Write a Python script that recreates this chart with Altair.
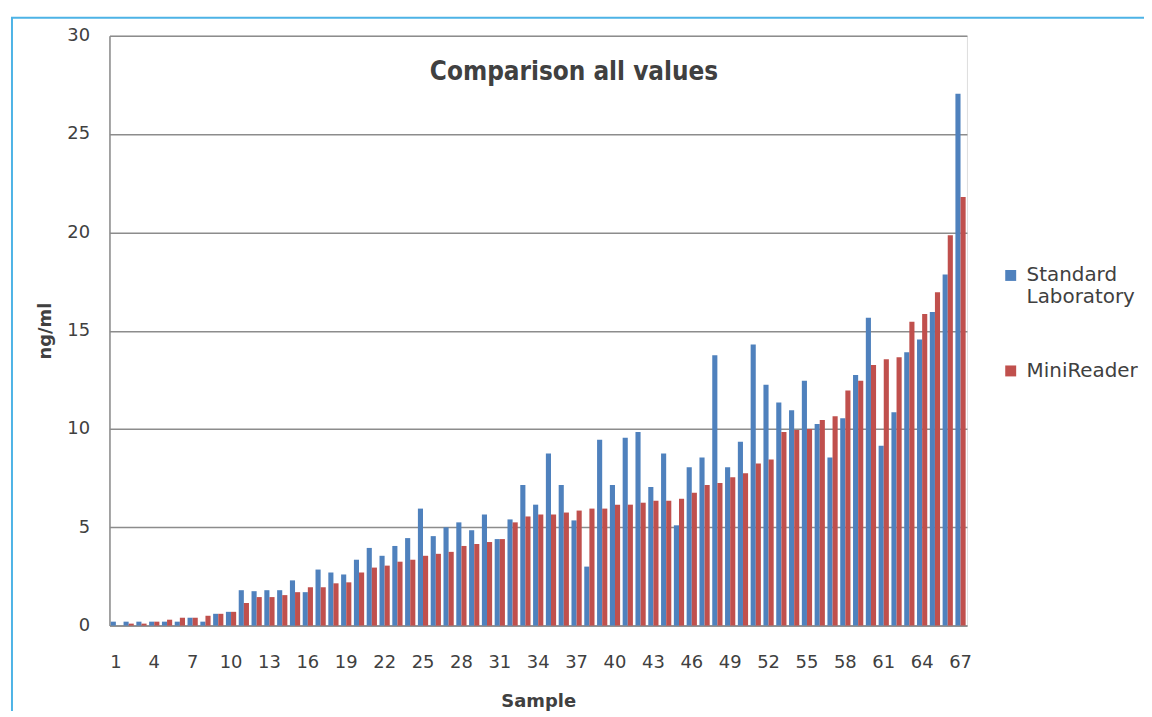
import altair as alt
import pandas as pd

samples = list(range(1, 68))

standard_lab = [
    0.2, 0.2, 0.2, 0.2, 0.2, 0.2, 0.4, 0.2, 0.6, 0.7,
    1.8, 1.75, 1.8, 1.8, 2.3, 1.7, 2.85, 2.7, 2.6, 3.35,
    3.95, 3.55, 4.05, 4.45, 5.95, 4.55, 5.0, 5.25, 4.85, 5.65,
    4.4, 5.4, 7.15, 6.15, 8.75, 7.15, 5.35, 3.0, 9.45, 7.15,
    9.55, 9.85, 7.05, 8.75, 5.1, 8.05, 8.55, 13.75, 8.05, 9.35,
    14.3, 12.25, 11.35, 10.95, 12.45, 10.25, 8.55, 10.55, 12.75, 15.65,
    9.15, 10.85, 13.9, 14.55, 15.95, 17.85, 27.05,
]

mini_reader = [
    0.0, 0.1, 0.1, 0.2, 0.3, 0.4, 0.4, 0.5, 0.6, 0.7,
    1.15, 1.45, 1.45, 1.55, 1.7, 1.95, 1.95, 2.15, 2.2, 2.7,
    2.95, 3.05, 3.25, 3.35, 3.55, 3.65, 3.75, 4.05, 4.15, 4.25,
    4.4, 5.25, 5.55, 5.65, 5.65, 5.75, 5.85, 5.95, 5.95, 6.15,
    6.15, 6.25, 6.35, 6.35, 6.45, 6.75, 7.15, 7.25, 7.55, 7.75,
    8.25, 8.45, 9.85, 9.95, 10.0, 10.45, 10.65, 11.95, 12.45, 13.25,
    13.55, 13.65, 15.45, 15.85, 16.95, 19.85, 21.8,
]

series_names = ["Standard Laboratory", "MiniReader"]
series_colors = ["#4F81BD", "#C0504D"]
y_ticks = [0, 5, 10, 15, 20, 25, 30]
x_tick_labels = list(range(1, 68, 3))

rows = []
for s, a, b in zip(samples, standard_lab, mini_reader):
    rows.append({"Sample": s, "Series": series_names[0], "Value": a})
    rows.append({"Sample": s, "Series": series_names[1], "Value": b})
df = pd.DataFrame(rows)

TEXT = "#404040"
GRID = "#8c8c8c"

bars = alt.Chart(df).mark_bar().encode(
    x=alt.X(
        "Sample:O",
        sort=samples,
        scale=alt.Scale(paddingInner=0.2, paddingOuter=0.1),
        axis=alt.Axis(
            values=x_tick_labels,
            labelAngle=0,
            ticks=False,
            labelPadding=28,
            labelFont="DejaVu Sans",
            labelFontSize=18,
            labelColor=TEXT,
            title="Sample",
            titleFont="DejaVu Sans",
            titleFontSize=18,
            titleFontWeight="bold",
            titleColor=TEXT,
            titlePadding=21,
            domainColor=GRID,
            domainWidth=1.5,
        ),
    ),
    xOffset=alt.XOffset("Series:N", sort=series_names, scale=alt.Scale(paddingInner=0, paddingOuter=0)),
    y=alt.Y(
        "Value:Q",
        scale=alt.Scale(domain=[0, 30], nice=False),
        axis=alt.Axis(
            values=y_ticks,
            ticks=False,
            labelPadding=20,
            labelFont="DejaVu Sans",
            labelFontSize=18,
            labelColor=TEXT,
            title="ng/ml",
            titleFont="DejaVu Sans",
            titleFontSize=18,
            titleFontWeight="bold",
            titleColor=TEXT,
            titlePadding=12,
            grid=True,
            gridColor=GRID,
            gridWidth=1.5,
            domainColor=GRID,
            domainWidth=1.5,
        ),
    ),
    color=alt.Color(
        "Series:N",
        sort=series_names,
        scale=alt.Scale(domain=series_names, range=series_colors),
        title=None,
        legend=alt.Legend(
            orient="none",
            legendX=896,
            legendY=231,
            padding=0,
            symbolType="square",
            symbolSize=121,
            symbolStrokeWidth=0,
            symbolOpacity=1,
            labelFont="DejaVu Sans",
            labelFontSize=20,
            labelColor=TEXT,
            labelOffset=6,
            labelLimit=300,
            rowPadding=54,
            labelExpr="datum.label == 'Standard Laboratory' ? ['Standard', 'Laboratory'] : datum.label",
        ),
    ),
)

one = pd.DataFrame({"k": [0]})
frame_left = alt.Chart(one).mark_rule(color="#4db3e6", strokeWidth=2).encode(
    x=alt.value(-98), y=alt.value(-18), y2=alt.value(690)
)
frame_top = alt.Chart(one).mark_rule(color="#4db3e6", strokeWidth=2).encode(
    x=alt.value(-99), x2=alt.value(1050), y=alt.value(-18)
)

chart = alt.layer(frame_left, frame_top, bars).properties(
    width=862,
    height=593,
    autosize=alt.AutoSizeParams(type="none"),
    padding={"left": 102, "top": 26, "right": 178, "bottom": 84},
    title=alt.Title(
        "Comparison all values",
        font="DejaVu Sans Condensed",
        fontSize=26,
        fontWeight="bold",
        color=TEXT,
        anchor="middle",
        dx=36,
        dy=73,
    ),
).configure_view(stroke=None).configure(background="white")

chart.save("out.html", embed_options={"renderer": "svg", "actions": False})
